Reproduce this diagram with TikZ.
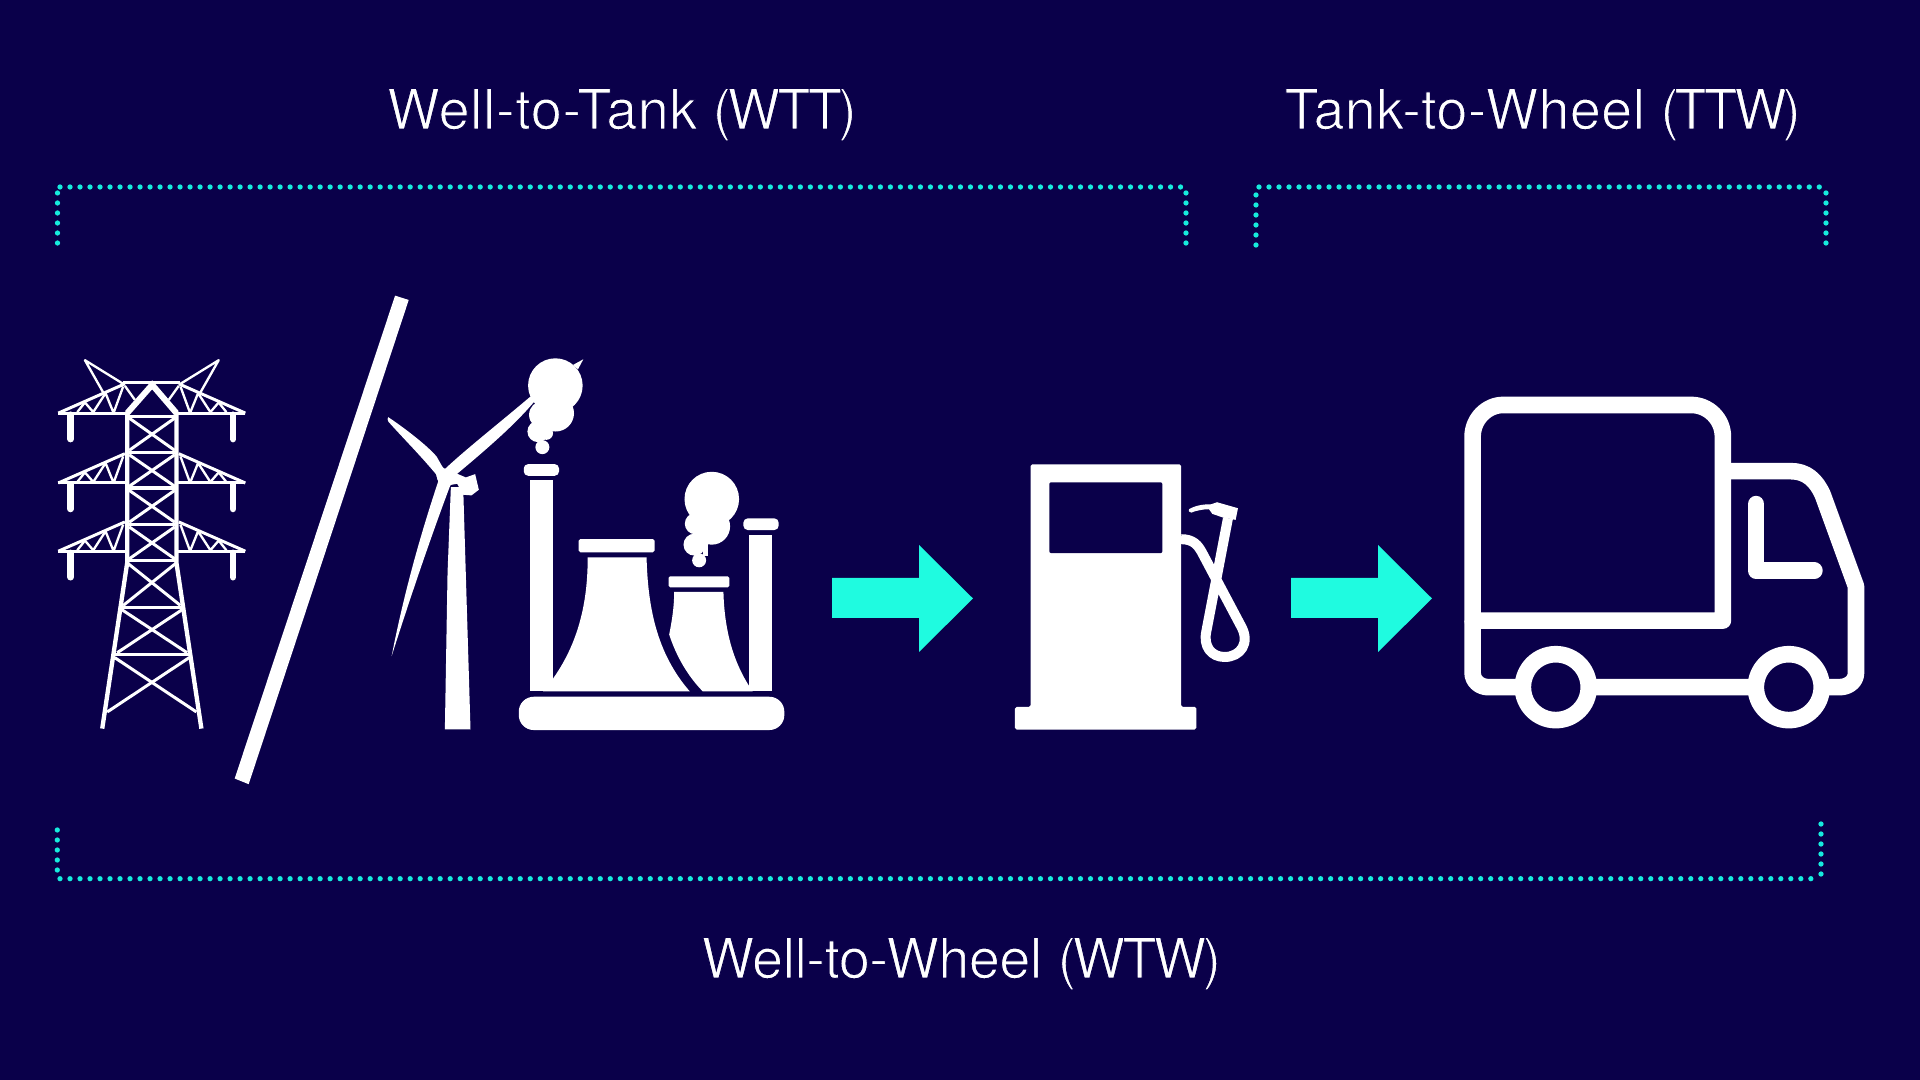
\documentclass[tikz,border=0pt]{standalone}
\usepackage{fontspec}
\setmainfont{TeX Gyre Heros}
\newfontfamily\acrfont{TeX Gyre Heros}[LetterSpace=-6.5]
\newfontfamily\acrtight{TeX Gyre Heros}[LetterSpace=-8]
\definecolor{bgnavy}{HTML}{0A004A}
\definecolor{aqua}{HTML}{1FFBE0}
\definecolor{dotc}{HTML}{16EBDD}
\newcommand\zz{0.0945pt}
\newcommand\thintext[1]{\special{pdf:code q 2 Tr 0.27 w 0.04 0 0.29 RG}#1\special{pdf:code Q}}
\tikzset{
  zoomed/.style={x=0.0033333cm,y=-0.0033333cm},
  label text/.style={text=white,font=\fontsize{15.8pt}{18pt}\selectfont,inner sep=0pt,anchor=base west},
  dotted bracket/.style={draw=dotc,line width=1.5pt,line cap=round,dash pattern=on 0pt off 2.845pt},
  flow arrow/.style={fill=aqua},
  icon/.style={fill=white},
  strand/.style={draw=white,line width=9*\zz},
  heavy/.style={draw=white,line width=13*\zz},
  truck line/.style={draw=white,line width=50*\zz,line join=round},
}
\begin{document}
\begin{tikzpicture}[x=0.01cm,y=-0.01cm]
\fill[bgnavy] (0,0) rectangle (1920,1080);
\useasboundingbox (0,0) rectangle (1920,1080);

% labels
\node[label text] (wtt) at (386.5,129) {\thintext{{\addfontfeature{LetterSpace=1.2}Well-to-Tank} {\acrfont(WTT)}}};
\node[label text] (ttw) at (1284,129) {\thintext{{\addfontfeature{LetterSpace=0.8}Tank-to-Wheel} {\acrtight(TTW)}}};
\node[label text] (wtw) at (701,978) {\thintext{{\addfontfeature{LetterSpace=-0.75}Well-to-Wheel} {\acrfont(WTW)}}};

% brackets
\draw[dotted bracket] (57.5,243) -- (57.5,191);
\draw[dotted bracket] (60,187) -- (1183,187);
\draw[dotted bracket] (1186,243) -- (1186,191);
\draw[dotted bracket] (1256,245) -- (1256,191);
\draw[dotted bracket] (1259,187) -- (1823,187);
\draw[dotted bracket] (1826,243) -- (1826,191);
\draw[dotted bracket] (57.3,830) -- (57.3,880);
\draw[dotted bracket] (60,878.7) -- (1820,878.7);
\draw[dotted bracket] (1821,824) -- (1821,876);

% pylon and slash
\begin{scope}[shift={(40,280)},zoomed]
\fill[icon] (1067,47) -- (1108,60) -- (627,1515) -- (585,1498) -- cycle;
% body
\draw[heavy] (262,400) -- (262,850) -- (187,1348);
\draw[heavy] (410,400) -- (410,850) -- (485,1348);
\draw[draw=white,line width=18*\zz] (262,400) -- (337,315) -- (410,400);
\draw[strand] (250,307) -- (420,307);
\foreach \ya in {410,518,735,843}{\draw[strand] (262,\ya) -- (410,\ya);}
\draw[draw=white,line width=12*\zz] (262,625) -- (410,625);
\draw[strand] (243,983) -- (428,983);
\draw[strand] (222,1125) -- (450,1125);
\foreach \xa/\ya/\xb/\yb in {268/415/405/512,405/415/268/512,268/525/405/620,405/525/268/620,268/632/405/728,405/632/268/728,268/742/405/838,405/742/268/838,262/850/422/978,410/850/250/978,245/990/442/1120,428/990/232/1120,225/1135/470/1298,448/1135/202/1298}
  {\draw[strand] (\xa,\ya) -- (\xb,\yb);}
% arms
\foreach \d in {400,610,815}{
  \foreach \flip/\sc in {0/1,672/-1}{
    \begin{scope}[shift={(\flip,\d)},xscale=\sc]
      \draw[strand] (55,0) -- (262,0);
      \draw[strand] (55,0) -- (255,-88);
      \draw[draw=white,line width=7*\zz] (250,-80) -- (222,-3) (197,-60) -- (220,-3) (197,-60) -- (160,-3) (135,-32) -- (160,-3) (135,-32) -- (112,-3);
      \draw[draw=white,line width=20*\zz,line cap=round] (92,5) -- (92,78);
    \end{scope}
  }
}
\foreach \flip/\sc in {0/1,672/-1}{
  \begin{scope}[shift={(\flip,0)},xscale=\sc]
    \draw[draw=white,line width=7*\zz,line join=round] (250,312) -- (135,241) -- (190,338);
    \draw[draw=white,line width=7*\zz] (255,318) -- (285,360);
  \end{scope}
}
\end{scope}

% turbine and power plant
\begin{scope}[shift={(370,340)},zoomed]
% turbine
\fill[icon] (225,1170) -- (302,1170) -- (280,442) -- (243,442) -- (233,700) -- cycle;
\fill[icon] (235,395) -- (262,402) -- (288,413) -- (316,403) -- (327,450) -- (305,467) -- (280,465) -- (262,432) -- (240,436) -- cycle;
\fill[icon] (55,232) .. controls (100,262) and (170,315) .. (200,350) .. controls (212,370) and (218,385) .. (225,388)
  .. controls (280,335) and (400,240) .. (482,170) -- (498,180) .. controls (440,250) and (360,320) .. (262,402)
  -- (240,440) .. controls (195,560) and (135,730) .. (65,950) .. controls (110,720) and (170,530) .. (205,425)
  -- (198,403) .. controls (150,345) and (90,285) .. (55,245) .. controls (52,240) and (52,235) .. (55,232) -- cycle;
\fill[icon] (225,410) circle (24);
% smoke
\fill[icon] (557,137) circle (82);
\fill[icon] (558,220) circle (55);
\fill[icon] (520,225) circle (42);
\fill[icon] (505,275) circle (32);
\fill[icon] (530,280) circle (20);
\fill[icon] (518,322) circle (21);
\fill[icon] (610,75) -- (641,58) -- (625,88) -- cycle;
\fill[icon] (1027,478) circle (82);
\fill[icon] (1027,560) circle (55);
\fill[icon] (978,552) circle (32);
\fill[icon] (975,615) circle (33);
\fill[icon] (989,662) circle (21);
\fill[icon] (1000,590) rectangle (1015,650);
% chimneys
\fill[icon,rounded corners=13*\zz] (462,373) rectangle (568,408);
\fill[icon] (481,422) rectangle (549,1056);
\fill[icon,rounded corners=13*\zz] (1122,536) rectangle (1228,571);
\fill[icon] (1140,585) rectangle (1209,1056);
% cooling towers
\fill[icon,rounded corners=5*\zz] (627,598) rectangle (855,638);
\fill[icon] (654,653) -- (831,653) .. controls (835,800) and (860,940) .. (961,1056) -- (520,1056) .. controls (610,950) and (655,820) .. (654,653) -- cycle;
\fill[icon,rounded corners=5*\zz] (897,710) rectangle (1080,743);
\fill[icon] (914,757) -- (1062,757) .. controls (1065,870) and (1090,970) .. (1150,1056) -- (1000,1056) .. controls (955,1010) and (920,950) .. (899,885) .. controls (908,840) and (914,800) .. (914,757) -- cycle;
% base
\fill[icon,rounded corners=45*\zz] (447,1072) rectangle (1245,1172);
\end{scope}

% arrows
\fill[flow arrow] (832,578) -- (919,578) -- (919,545) -- (973,598.5) -- (919,652) -- (919,618) -- (832,618) -- cycle;
\fill[flow arrow] (1291,578) -- (1378,578) -- (1378,545) -- (1432,598.5) -- (1378,652) -- (1378,618) -- (1291,618) -- cycle;

% pump
\begin{scope}[shift={(1000,450)},zoomed]
\fill[icon,rounded corners=5*\zz] (92,43) -- (544,43) -- (544,772) -- (590,772) -- (590,840) -- (45,840) -- (45,772) -- (92,772) -- cycle;
\fill[bgnavy,rounded corners=6*\zz] (148,97) rectangle (488,310);
\draw[draw=white,line width=30*\zz,line join=round] (544,268) .. controls (580,268) and (595,285) .. (608,310) -- (722,525) .. controls (755,580) and (722,622) .. (675,622) .. controls (635,622) and (610,590) .. (620,545) -- (685,205);
\fill[icon] (568,178) .. controls (590,165) and (615,163) .. (635,163) -- (652,157) -- (715,175) -- (708,210) -- (670,203) -- (638,192) -- (628,178) .. controls (610,178) and (590,182) .. (575,188) .. controls (567,188) and (565,182) .. (568,178) -- cycle;
\end{scope}

% truck
\begin{scope}[shift={(1440,380)},zoomed]
\draw[truck line] (98,723) -- (98,170) .. controls (98,118) and (140,75) .. (190,75) -- (755,75) .. controls (807,75) and (850,118) .. (850,170) -- (850,723) -- cycle;
\draw[truck line] (98,723) -- (98,880) .. controls (98,905) and (120,923) .. (145,923) -- (1200,923) .. controls (1228,923) and (1250,905) .. (1250,880) -- (1250,620) -- (1150,345) .. controls (1130,300) and (1100,274) .. (1055,274) -- (850,274);
\draw[truck line,line cap=round] (950,373) -- (950,573) -- (1125,573);
\draw[truck line,fill=bgnavy] (348,923) circle (99);
\draw[truck line,fill=bgnavy] (1048,923) circle (99);
\end{scope}
\end{tikzpicture}
\end{document}
